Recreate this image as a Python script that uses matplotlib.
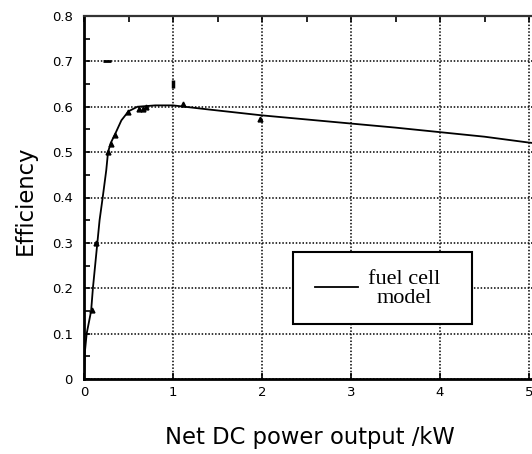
import matplotlib
matplotlib.use("Agg")
import matplotlib.pyplot as plt
from matplotlib.patches import Rectangle
import numpy as np

# model curve
model_power = [0.0, 0.01, 0.03, 0.08, 0.10, 0.15, 0.175, 0.21, 0.25, 0.27, 0.30, 0.35,
               0.42, 0.50, 0.60, 0.80, 1.00, 1.40, 2.00, 2.50, 3.00, 3.50, 4.00, 4.50,
               5.00, 5.30]
model_eff = [0.0, 0.06, 0.10, 0.15, 0.20, 0.30, 0.35, 0.40, 0.46, 0.50, 0.52, 0.54,
             0.57, 0.59, 0.60, 0.603, 0.603, 0.594, 0.581, 0.572, 0.563, 0.554, 0.544,
             0.534, 0.521, 0.515]

# measured points (triangles)
meas_power = [0.09, 0.14, 0.27, 0.30, 0.35, 0.49, 0.62, 0.66, 0.70, 1.11, 1.98]
meas_eff = [0.152, 0.30, 0.50, 0.519, 0.537, 0.589, 0.594, 0.596, 0.60, 0.606, 0.572]
# stray measured points (dash marks)
stray_power = [0.26, 1.00]
stray_eff = [0.70, 0.651]

x_major = [0, 1, 2, 3, 4, 5]
y_major = [0, 0.1, 0.2, 0.3, 0.4, 0.5, 0.6, 0.7, 0.8]
y_labels = ["0", "0.1", "0.2", "0.3", "0.4", "0.5", "0.6", "0.7", "0.8"]
legend_label = "fuel cell\nmodel"

W, H = 532, 454
X0, Y0, PXX, PXY = 84, 379, 89.0, 363.0
fig = plt.figure(figsize=(W / 100, H / 100), dpi=100)
ax = fig.add_axes([X0 / W, 1 - Y0 / H, 6 * PXX / W, PXY / H])


def pa(x, y):
    """pixel -> axes fraction"""
    return (x - X0) / (6 * PXX), (Y0 - y) / PXY


ax.plot(model_power, model_eff, color="black", lw=1.3, zorder=3)
ax.plot(meas_power, meas_eff, linestyle="none", marker="^", ms=3.5, color="black", zorder=4)
ax.plot(stray_power[:1], stray_eff[:1], linestyle="none", marker="_", ms=5.5, mew=2,
        color="black", zorder=4)
ax.plot(stray_power[1:], stray_eff[1:], linestyle="none", marker="|", ms=6, mew=2.5,
        color="black", zorder=4)

ax.set_xlim(0, 6)
ax.set_ylim(0, 0.8)
ax.set_xticks(x_major)
ax.set_xticklabels([str(v) for v in x_major])
ax.set_yticks(y_major)
ax.set_yticklabels(y_labels)
ax.set_yticks(np.arange(0, 0.8001, 0.05), minor=True)

ax.grid(True, which="major", color="black", linestyle=(0, (1, 1.2)), linewidth=1.1)
ax.tick_params(which="both", direction="in", length=4, width=1.2, colors="black",
               labelsize=9.5, top=False, right=False)
ax.tick_params(axis="x", pad=5)
ax.tick_params(axis="y", pad=8)

sec = ax.secondary_xaxis("top")
sec.set_xticks(np.arange(0, 6.01, 0.5))
sec.set_xticklabels([])
sec.tick_params(direction="in", length=4, width=1.2)
sec.spines["top"].set_visible(False)

for s in ["left", "bottom"]:
    ax.spines[s].set_linewidth(2)
ax.spines["top"].set_linewidth(1.6)
ax.spines["top"].set_color("#333333")

ax.set_xlabel("Net DC power output /kW", fontsize=16.3)
ax.set_ylabel("Efficiency", fontsize=16.3)
ax.xaxis.set_label_coords(*pa(310, 426))
ax.yaxis.set_label_coords(*pa(37, 200))

# legend box
bx0, by0 = pa(293, 324)
bx1, by1 = pa(472, 252)
ax.add_patch(Rectangle((bx0, by0), bx1 - bx0, by1 - by0, transform=ax.transAxes,
                       facecolor="white", edgecolor="black", lw=1.5, zorder=5,
                       clip_on=False))
lx0, ly = pa(315, 287)
lx1, _ = pa(358, 287)
ax.plot([lx0, lx1], [ly, ly], transform=ax.transAxes, color="black", lw=1.3, zorder=6)
tx, ty = pa(404, 289)
ax.text(tx, ty, legend_label, transform=ax.transAxes, ha="center", va="center",
        multialignment="center", family="Liberation Serif", fontsize=16,
        linespacing=1.0, zorder=6)

fig.savefig("out.png", dpi=100)
